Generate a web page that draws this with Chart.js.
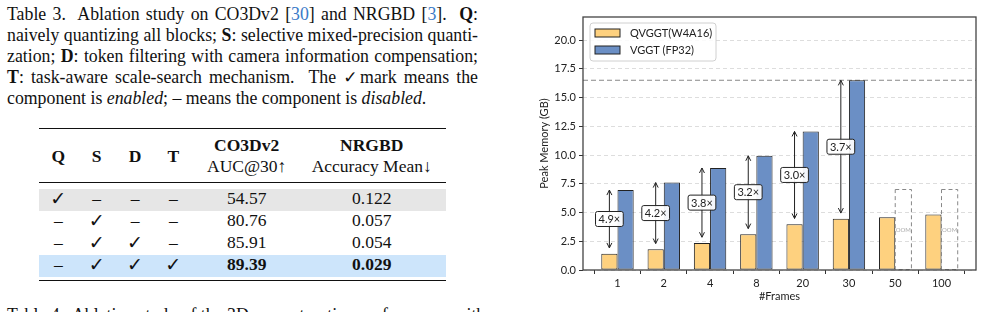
<!DOCTYPE html>
<html>
<head>
<meta charset="utf-8">
<script src="https://cdn.jsdelivr.net/npm/chart.js@4.4.1/dist/chart.umd.min.js"></script>
<style>
html, body { margin: 0; padding: 0; background: #fff; }
body { width: 982px; height: 312px; position: relative; overflow: hidden; font-family: "Liberation Serif", "Times New Roman", serif; color: #111; }
.cap { position: absolute; left: 7px; width: 471px; font-size: 17.8px; line-height: 21px; }
.cap div { text-align: justify; text-align-last: justify; white-space: nowrap; }
.cap div.last { text-align: left; text-align-last: left; }
.ref { color: #3b7bc8; }
.rule { position: absolute; left: 39px; width: 407px; background: #111; }
.band { position: absolute; left: 39px; width: 407px; }
.row { position: absolute; left: 0; width: 490px; height: 21px; line-height: 21px; font-size: 17.5px; }
.row span { position: absolute; width: 140px; text-align: center; }
.c1 { left: -11.7px; } .c2 { left: 26.7px; } .c3 { left: 65px; } .c4 { left: 103.3px; }
.c5 { left: 176.7px; } .c6 { left: 301.7px; }
.ck { font-family: "DejaVu Sans", sans-serif; font-size: 19px; }
#wrap { position: absolute; left: 530px; top: 0; width: 452px; height: 312px; }
</style>
</head>
<body>
<div class="cap" style="top:4px">
  <div>Table 3.&nbsp; Ablation study on CO3Dv2 [<span class="ref">30</span>] and NRGBD [<span class="ref">3</span>].&nbsp; <b>Q</b>:</div>
  <div>naively quantizing all blocks; <b>S</b>: selective mixed-precision quanti-</div>
  <div>zation; <b>D</b>: token filtering with camera information compensation;</div>
  <div><b>T</b>: task-aware scale-search mechanism.&nbsp; The <span class="ck" style="font-size:17px">✓</span>mark means the</div>
  <div class="last">component is <i>enabled</i>; – means the component is <i>disabled</i>.</div>
</div>

<div class="rule" style="top:127.5px;height:1.5px"></div>
<div class="row" style="top:145.5px;font-weight:bold"><span class="c1">Q</span><span class="c2">S</span><span class="c3">D</span><span class="c4">T</span></div>
<div class="row" style="top:134.5px;font-weight:bold"><span class="c5">CO3Dv2</span><span class="c6">NRGBD</span></div>
<div class="row" style="top:156.2px"><span class="c5">AUC@30↑</span><span class="c6">Accuracy Mean↓</span></div>
<div class="rule" style="top:182px;height:1px"></div>
<div class="band" style="top:189px;height:21.7px;background:#e6e6e6"></div>
<div class="band" style="top:255px;height:21.7px;background:#cde5fb"></div>
<div class="row" style="top:187.8px"><span class="c1 ck">✓</span><span class="c2">–</span><span class="c3">–</span><span class="c4">–</span><span class="c5">54.57</span><span class="c6">0.122</span></div>
<div class="row" style="top:209.5px"><span class="c1">–</span><span class="c2 ck">✓</span><span class="c3">–</span><span class="c4">–</span><span class="c5">80.76</span><span class="c6">0.057</span></div>
<div class="row" style="top:231.8px"><span class="c1">–</span><span class="c2 ck">✓</span><span class="c3 ck">✓</span><span class="c4">–</span><span class="c5">85.91</span><span class="c6">0.054</span></div>
<div class="row" style="top:253.5px"><span class="c1">–</span><span class="c2 ck">✓</span><span class="c3 ck">✓</span><span class="c4 ck">✓</span><span class="c5"><b>89.39</b></span><span class="c6"><b>0.029</b></span></div>
<div class="rule" style="top:279.5px;height:1.5px"></div>
<div class="cap" style="top:305px;width:480px"><div class="last">Table 4.&nbsp; Ablation study of the 3D reconstruction performance with</div></div>

<div id="wrap"><canvas id="memChart"></canvas></div>

<script>
const frames = ['1', '2', '4', '8', '20', '30', '50', '100'];
const qvggt = [1.42, 1.80, 2.35, 3.10, 3.98, 4.45, 4.58, 4.82];
const vggt = [6.95, 7.60, 8.87, 9.93, 12.05, 16.49, null, null];
const ratioLabels = ['4.9×', '4.2×', '3.8×', '3.2×', '3.0×', '3.7×'];
const yTicks = [0, 2.5, 5, 7.5, 10, 12.5, 15, 17.5, 20];
const oomHeight = 7;
const refLine = 16.5;

const QCOL = '#fed17f';
const VCOL = '#6b8fc5';
const FONT = 'Lato, "Open Sans", sans-serif';

const isOom = i => vggt[i] === null;

const extras = {
    id: 'extras',
    beforeDatasetsDraw(chart) {
        const {ctx, chartArea, scales} = chart;
        const y = scales.y.getPixelForValue(refLine);
        ctx.save();
        ctx.strokeStyle = '#888';
        ctx.lineWidth = 1;
        ctx.setLineDash([5, 3]);
        ctx.beginPath();
        ctx.moveTo(chartArea.left, y);
        ctx.lineTo(chartArea.right, y);
        ctx.stroke();
        ctx.restore();
    },
    afterDatasetsDraw(chart) {
        const {ctx, scales} = chart;
        const qBars = chart.getDatasetMeta(0).data;
        const vBars = chart.getDatasetMeta(1).data;
        ctx.save();
        // dashed placeholders for out-of-memory runs
        vBars.forEach((bar, i) => {
            if (!isOom(i)) return;
            const p = bar.getProps(['x', 'y', 'base', 'width'], true);
            ctx.strokeStyle = '#888';
            ctx.lineWidth = 1;
            ctx.setLineDash([4, 3]);
            ctx.strokeRect(p.x - p.width / 2, p.y, p.width, p.base - p.y);
            ctx.setLineDash([]);
            ctx.fillStyle = '#aaa';
            ctx.font = '6px ' + FONT;
            ctx.textAlign = 'center';
            ctx.textBaseline = 'middle';
            ctx.fillText('OOM', p.x, scales.y.getPixelForValue(3.5));
        });
        // double arrows with speed-up labels
        ratioLabels.forEach((lab, i) => {
            const x = qBars[i].x;
            const y0 = scales.y.getPixelForValue(qvggt[i] + 0.5);
            const y1 = scales.y.getPixelForValue(vggt[i]);
            ctx.strokeStyle = '#222';
            ctx.lineWidth = 1;
            ctx.beginPath();
            ctx.moveTo(x, y0);
            ctx.lineTo(x, y1);
            ctx.moveTo(x - 2.5, y1 + 5);
            ctx.lineTo(x, y1);
            ctx.lineTo(x + 2.5, y1 + 5);
            ctx.moveTo(x - 2.5, y0 - 5);
            ctx.lineTo(x, y0);
            ctx.lineTo(x + 2.5, y0 - 5);
            ctx.stroke();
            const ym = (y0 + y1) / 2;
            ctx.font = '11px ' + FONT;
            const w = ctx.measureText(lab).width + 6;
            const h = 15;
            ctx.beginPath();
            ctx.roundRect(x - w / 2, ym - h / 2, w, h, 2);
            ctx.fillStyle = 'rgba(255,255,255,0.92)';
            ctx.fill();
            ctx.stroke();
            ctx.fillStyle = '#222';
            ctx.textAlign = 'center';
            ctx.textBaseline = 'middle';
            ctx.fillText(lab, x, ym + 0.5);
        });
        ctx.restore();
    },
    afterDraw(chart) {
        const {ctx, chartArea} = chart;
        ctx.save();
        // frame
        ctx.strokeStyle = '#444';
        ctx.lineWidth = 1.3;
        ctx.strokeRect(chartArea.left, chartArea.top, chartArea.right - chartArea.left, chartArea.bottom - chartArea.top);
        // legend
        const lx = chartArea.left + 7, ly = chartArea.top + 6;
        ctx.beginPath();
        ctx.roundRect(lx, ly, 126, 38, 3);
        ctx.fillStyle = 'rgba(255,255,255,0.85)';
        ctx.fill();
        ctx.strokeStyle = '#d0d0d0';
        ctx.lineWidth = 1;
        ctx.stroke();
        ctx.font = '11px ' + FONT;
        ctx.textBaseline = 'middle';
        ctx.textAlign = 'left';
        chart.data.datasets.forEach((ds, k) => {
            const cy = ly + 10 + k * 17;
            ctx.fillStyle = ds.legendColor;
            ctx.fillRect(lx + 5, cy - 4, 25, 8);
            ctx.strokeStyle = '#222';
            ctx.strokeRect(lx + 5, cy - 4, 25, 8);
            ctx.fillStyle = '#222';
            ctx.fillText(ds.label, lx + 40, cy);
        });
        ctx.restore();
    }
};

new Chart(document.getElementById('memChart'), {
    type: 'bar',
    data: {
        datasets: [
            {
                label: 'QVGGT(W4A16)',
                legendColor: QCOL,
                data: qvggt.map((v, i) => ({x: i, y: v})),
                backgroundColor: QCOL,
                borderColor: '#222',
                borderWidth: 1,
                borderSkipped: false
            },
            {
                label: 'VGGT (FP32)',
                legendColor: VCOL,
                data: vggt.map((v, i) => ({x: i, y: v === null ? oomHeight : v})),
                backgroundColor: vggt.map(v => v === null ? 'rgba(0,0,0,0)' : VCOL),
                borderColor: '#222',
                borderWidth: vggt.map(v => v === null ? 0 : 1),
                borderSkipped: false
            }
        ]
    },
    options: {
        responsive: true,
        maintainAspectRatio: false,
        animation: false,
        events: [],
        layout: { padding: { left: 0, right: 6, top: 17, bottom: 0 } },
        categoryPercentage: 0.7,
        barPercentage: 1.0,
        plugins: { legend: { display: false }, tooltip: { enabled: false } },
        scales: {
            x: {
                type: 'linear',
                min: -0.745,
                max: 7.745,
                offset: false,
                afterBuildTicks: s => { s.ticks = frames.map((f, i) => ({value: i})); },
                afterFit: s => { s.height = 42; },
                border: { display: false },
                grid: { display: true, drawOnChartArea: false, drawTicks: true, tickLength: 4, tickColor: '#333', tickWidth: 1 },
                ticks: {
                    autoSkip: false, maxRotation: 0, padding: 3,
                    color: '#222', font: { family: FONT, size: 11 },
                    callback: v => frames[v]
                },
                title: { display: true, text: '#Frames', color: '#222', font: { family: FONT, size: 11 }, padding: { top: 0, bottom: 9 } }
            },
            y: {
                min: 0,
                max: 22,
                afterBuildTicks: s => { s.ticks = yTicks.map(v => ({value: v})); },
                afterFit: s => { s.width = 53; },
                border: { display: false, dash: [4, 3] },
                grid: { color: '#d4d4d4', lineWidth: 0.8, tickLength: 4, tickColor: '#333', tickWidth: 1, tickBorderDash: [] },
                ticks: {
                    padding: 3, color: '#222', font: { family: FONT, size: 11 },
                    callback: v => Number(v).toFixed(1)
                },
                title: { display: true, text: 'Peak Memory (GB)', color: '#222', font: { family: FONT, size: 11 }, padding: { top: 8, bottom: 0 } }
            }
        }
    },
    plugins: [extras]
});
</script>
</body>
</html>
